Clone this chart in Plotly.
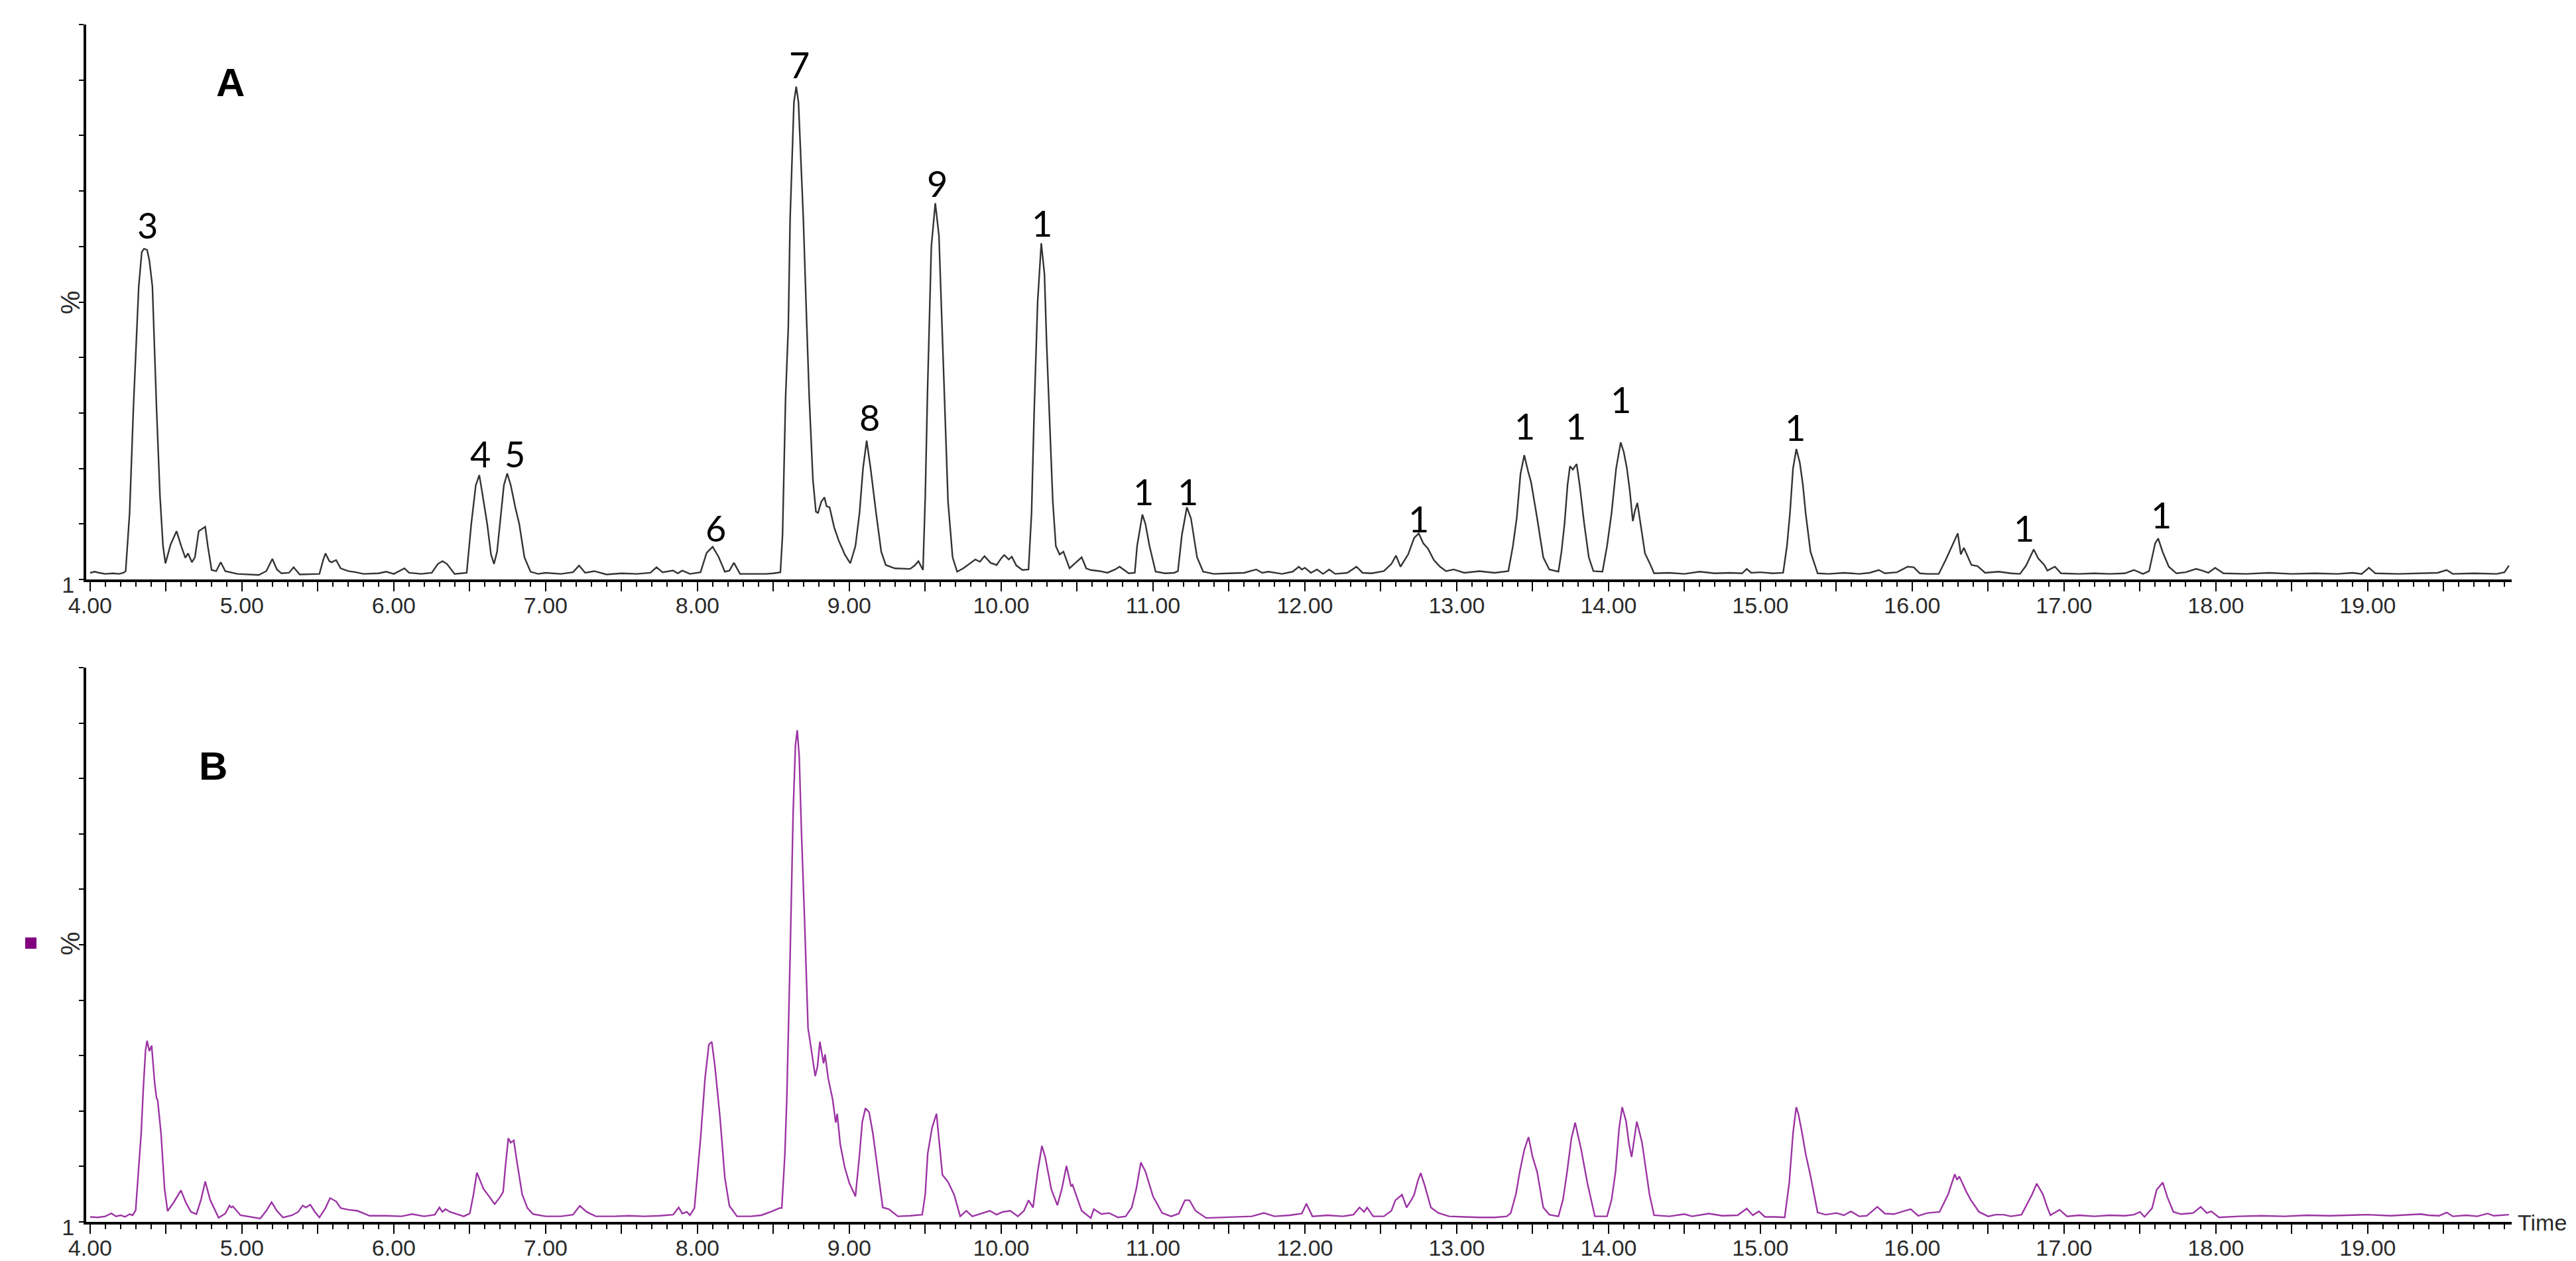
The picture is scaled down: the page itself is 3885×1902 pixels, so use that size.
import plotly.graph_objects as go

# Retention time (min) and relative intensity (%)
trace_a_points = [
    (4.00, 1.2), (4.03, 1.4), (4.06, 1.2), (4.10, 1.0), (4.15, 1.1), (4.19, 1.0), (4.22, 1.2),
    (4.234, 1.5), (4.26, 12), (4.285, 31), (4.32, 52.8), (4.34, 59.0), (4.355, 59.6), (4.375, 59.4),
    (4.39, 57.5), (4.41, 52.8), (4.437, 31), (4.46, 15), (4.48, 6), (4.496, 2.9), (4.53, 6.3),
    (4.569, 8.7), (4.60, 6), (4.627, 3.9), (4.645, 4.7), (4.67, 3.1), (4.69, 4.0), (4.715, 8.7),
    (4.758, 9.5), (4.775, 6), (4.80, 1.7), (4.83, 1.5), (4.86, 3.1), (4.89, 1.5), (4.97, 1.0),
    (5.05, 0.9), (5.11, 0.8), (5.16, 1.5), (5.20, 3.7), (5.23, 1.8), (5.26, 1.1), (5.31, 1.2),
    (5.34, 2.2), (5.38, 0.9), (5.45, 1.0), (5.51, 1.0), (5.535, 3.5), (5.55, 4.7), (5.575, 3.3),
    (5.59, 3.1), (5.62, 3.5), (5.65, 2.0), (5.70, 1.5), (5.75, 1.3), (5.80, 1.0), (5.90, 1.1),
    (5.95, 1.4), (6.00, 1.0), (6.07, 2.0), (6.10, 1.2), (6.18, 1.0), (6.25, 1.2), (6.29, 2.8),
    (6.32, 3.3), (6.35, 2.8), (6.40, 1.0), (6.48, 1.2), (6.51, 10), (6.54, 17), (6.563, 18.8),
    (6.58, 16), (6.615, 10), (6.64, 4.5), (6.66, 2.8), (6.68, 5), (6.70, 10), (6.725, 17),
    (6.747, 19.1), (6.77, 17), (6.80, 13), (6.826, 10), (6.86, 4), (6.90, 1.4), (6.95, 1.0),
    (7.00, 1.2), (7.10, 1.0), (7.18, 1.3), (7.22, 2.5), (7.26, 1.2), (7.32, 1.5), (7.40, 0.9),
    (7.50, 1.1), (7.60, 1.0), (7.69, 1.2), (7.73, 2.2), (7.77, 1.3), (7.84, 1.6), (7.87, 1.1),
    (7.90, 1.6), (7.95, 1.0), (8.02, 1.3), (8.06, 4.8), (8.10, 5.9), (8.14, 4.0), (8.18, 1.4),
    (8.21, 1.6), (8.24, 3.0), (8.28, 1.0), (8.35, 1.0), (8.45, 1.0), (8.50, 1.1), (8.546, 1.3),
    (8.56, 8), (8.58, 32.7), (8.598, 45.5), (8.61, 65), (8.635, 86), (8.65, 88.8), (8.665, 86),
    (8.697, 65), (8.72, 45.5), (8.736, 32.7), (8.76, 18), (8.78, 12.2), (8.794, 12.0),
    (8.815, 14.0), (8.836, 14.8), (8.85, 13.2), (8.87, 13.0), (8.90, 9.4), (8.93, 7), (8.97, 4.5),
    (9.006, 2.9), (9.04, 6), (9.067, 12), (9.09, 20), (9.114, 25.0), (9.14, 20), (9.176, 12),
    (9.21, 5), (9.24, 2.6), (9.30, 2.0), (9.40, 1.9), (9.43, 2.5), (9.455, 3.3), (9.485, 1.7),
    (9.50, 15), (9.515, 34), (9.54, 60), (9.566, 67.8), (9.59, 62), (9.624, 34), (9.65, 14),
    (9.68, 4), (9.71, 1.4), (9.75, 2.0), (9.80, 3.0), (9.83, 3.6), (9.86, 3.2), (9.89, 4.2),
    (9.93, 3.0), (9.97, 2.6), (10.00, 3.8), (10.02, 4.4), (10.05, 3.6), (10.07, 4.1), (10.10, 2.5),
    (10.14, 1.7), (10.18, 1.8), (10.20, 12), (10.217, 30), (10.24, 50), (10.264, 60.6),
    (10.285, 55), (10.30, 42), (10.318, 30), (10.34, 14), (10.36, 6), (10.385, 4.5), (10.41, 5.0),
    (10.45, 2.0), (10.49, 3.0), (10.53, 4.0), (10.56, 2.0), (10.59, 1.7), (10.65, 1.5),
    (10.70, 1.2), (10.75, 1.8), (10.78, 2.3), (10.84, 1.1), (10.88, 1.2), (10.895, 6),
    (10.93, 11.7), (10.95, 10), (10.977, 6), (11.017, 1.4), (11.08, 1.1), (11.14, 1.2),
    (11.164, 1.5), (11.19, 8), (11.223, 13.0), (11.25, 11), (11.29, 4), (11.33, 1.4), (11.40, 1.0),
    (11.50, 1.1), (11.60, 1.2), (11.68, 1.8), (11.72, 1.2), (11.76, 1.4), (11.85, 1.0),
    (11.92, 1.4), (11.96, 2.3), (11.98, 1.8), (12.00, 2.1), (12.04, 1.2), (12.08, 1.8),
    (12.12, 1.0), (12.16, 1.8), (12.20, 1.0), (12.28, 1.2), (12.34, 2.3), (12.38, 1.2),
    (12.44, 1.1), (12.52, 1.5), (12.57, 2.8), (12.60, 4.3), (12.63, 2.3), (12.68, 4.5),
    (12.72, 7.5), (12.75, 8.3), (12.78, 6.5), (12.81, 5.6), (12.85, 3.5), (12.89, 2.3),
    (12.93, 1.5), (12.98, 1.8), (13.05, 1.2), (13.15, 1.5), (13.25, 1.2), (13.34, 1.5),
    (13.37, 6), (13.395, 11), (13.42, 19), (13.445, 22.4), (13.47, 19.5), (13.49, 17.5),
    (13.53, 11), (13.57, 4), (13.61, 1.8), (13.67, 1.4), (13.69, 5), (13.71, 10), (13.73, 17),
    (13.746, 20.4), (13.765, 19.8), (13.79, 20.8), (13.81, 17), (13.84, 10), (13.87, 4),
    (13.90, 1.5), (13.96, 1.4), (13.99, 6), (14.02, 12), (14.05, 20), (14.08, 24.7), (14.10, 23),
    (14.12, 20.2), (14.14, 16), (14.16, 10.5), (14.175, 12.5), (14.19, 13.8), (14.21, 10),
    (14.24, 4.7), (14.27, 3), (14.30, 1.1), (14.40, 1.2), (14.50, 1.0), (14.60, 1.4), (14.70, 1.1),
    (14.80, 1.2), (14.88, 1.1), (14.91, 1.9), (14.94, 1.2), (15.00, 1.3), (15.08, 1.1),
    (15.15, 1.2), (15.175, 6), (15.195, 12), (15.215, 20), (15.237, 23.5), (15.26, 21),
    (15.28, 17), (15.298, 12), (15.33, 5), (15.377, 1.1), (15.45, 1.0), (15.55, 1.2),
    (15.65, 1.0), (15.72, 1.2), (15.78, 1.7), (15.82, 1.1), (15.90, 1.3), (15.97, 2.3),
    (16.01, 2.2), (16.05, 1.1), (16.10, 1.0), (16.175, 1.0), (16.22, 3.5), (16.26, 5.9),
    (16.30, 8.3), (16.32, 4.5), (16.34, 5.7), (16.39, 2.6), (16.43, 2.4), (16.48, 1.2),
    (16.57, 1.4), (16.65, 1.1), (16.71, 1.0), (16.75, 2.5), (16.80, 5.4), (16.83, 3.8),
    (16.87, 2.6), (16.89, 1.6), (16.94, 2.3), (16.98, 1.1), (17.10, 1.0), (17.20, 1.1),
    (17.30, 1.0), (17.40, 1.1), (17.46, 1.7), (17.52, 1.0), (17.56, 1.5), (17.60, 6.5),
    (17.62, 7.4), (17.65, 4.9), (17.69, 2.3), (17.74, 1.1), (17.80, 1.3), (17.87, 1.9),
    (17.91, 1.6), (17.95, 1.2), (17.995, 2.1), (18.05, 1.1), (18.20, 1.0), (18.35, 1.2),
    (18.50, 1.0), (18.65, 1.1), (18.80, 1.0), (18.90, 1.2), (18.96, 1.0), (19.008, 2.1),
    (19.05, 1.1), (19.20, 1.0), (19.35, 1.1), (19.46, 1.2), (19.52, 1.7), (19.56, 1.0),
    (19.70, 1.1), (19.85, 1.0), (19.90, 1.3), (19.93, 2.5),
]

trace_b_points = [
    (4.00, 0.9), (4.05, 0.8), (4.10, 1.0), (4.14, 1.55), (4.17, 1.0), (4.20, 1.2), (4.23, 0.9),
    (4.26, 1.4), (4.28, 1.2), (4.30, 2.1), (4.315, 8), (4.336, 15.9), (4.35, 24), (4.365, 31),
    (4.375, 32.7), (4.39, 30.8), (4.405, 31.8), (4.425, 25), (4.437, 22.4), (4.445, 21.9),
    (4.467, 15.9), (4.49, 6), (4.51, 1.95), (4.55, 3.5), (4.598, 5.7), (4.63, 3.5), (4.664, 1.8),
    (4.70, 1.4), (4.73, 4), (4.758, 7.3), (4.79, 4), (4.846, 0.75), (4.89, 1.5), (4.918, 2.95),
    (4.93, 2.6), (4.94, 2.8), (4.99, 1.2), (5.05, 0.9), (5.12, 0.6), (5.16, 2), (5.195, 3.55),
    (5.23, 2), (5.27, 0.8), (5.33, 1.2), (5.37, 1.8), (5.40, 2.95), (5.42, 2.6), (5.45, 3.1),
    (5.48, 1.8), (5.51, 0.8), (5.55, 2.5), (5.58, 4.3), (5.62, 3.7), (5.65, 2.5), (5.70, 2.2),
    (5.76, 2.0), (5.84, 1.1), (5.95, 1.1), (6.05, 1.0), (6.12, 1.4), (6.20, 1.0), (6.27, 1.3),
    (6.30, 2.6), (6.32, 1.8), (6.34, 2.3), (6.37, 1.8), (6.46, 1.0), (6.50, 1.5), (6.525, 5),
    (6.547, 8.9), (6.59, 6.0), (6.63, 4.5), (6.664, 3.2), (6.70, 4.5), (6.72, 5.4), (6.735, 10),
    (6.754, 15.1), (6.77, 14.3), (6.79, 14.7), (6.81, 11), (6.845, 5.0), (6.88, 2.5),
    (6.917, 1.4), (7.00, 1.0), (7.10, 1.0), (7.18, 1.3), (7.225, 2.9), (7.27, 1.8), (7.33, 1.0),
    (7.45, 1.0), (7.55, 1.1), (7.65, 1.0), (7.75, 1.1), (7.84, 1.3), (7.876, 2.6), (7.90, 1.5),
    (7.93, 1.8), (7.95, 1.2), (7.98, 2.5), (8.02, 15), (8.05, 26), (8.075, 32), (8.094, 32.5),
    (8.115, 28), (8.148, 18.9), (8.18, 8), (8.21, 2.9), (8.26, 1.0), (8.35, 1.0), (8.42, 1.2),
    (8.49, 1.9), (8.54, 2.5), (8.555, 2.5), (8.575, 12), (8.588, 22.1), (8.61, 48), (8.63, 74),
    (8.645, 86), (8.657, 88.7), (8.67, 84), (8.685, 70), (8.705, 54.5), (8.728, 35.0),
    (8.75, 31), (8.775, 26.3), (8.79, 28), (8.806, 32.5), (8.83, 28.6), (8.84, 30.2), (8.86, 26),
    (8.89, 22.1), (8.91, 17.9), (8.92, 19.5), (8.94, 14), (8.97, 9.8), (9.00, 7), (9.04, 4.6),
    (9.066, 11.8), (9.085, 18), (9.106, 20.5), (9.13, 19.8), (9.155, 16), (9.18, 11.0),
    (9.22, 2.6), (9.26, 2.3), (9.32, 1.0), (9.40, 1.1), (9.48, 1.3), (9.50, 5), (9.516, 12.3),
    (9.545, 17), (9.574, 19.5), (9.59, 15), (9.613, 8.5), (9.65, 7.2), (9.69, 4.9), (9.73, 1.0),
    (9.77, 2.0), (9.81, 1.0), (9.87, 1.5), (9.925, 2.0), (9.97, 1.3), (10.01, 1.8), (10.06, 2.0),
    (10.11, 1.0), (10.15, 2.0), (10.18, 3.9), (10.21, 2.6), (10.24, 9), (10.268, 13.7),
    (10.29, 11.7), (10.33, 5.9), (10.37, 3.0), (10.40, 6), (10.43, 10.1), (10.46, 6.4),
    (10.47, 6.7), (10.53, 2.0), (10.59, 0.7), (10.61, 2.3), (10.66, 1.4), (10.71, 1.6),
    (10.77, 0.8), (10.82, 1.0), (10.86, 2.6), (10.89, 6), (10.92, 10.7), (10.95, 9.1),
    (11.00, 4.6), (11.06, 1.6), (11.12, 1.0), (11.17, 1.5), (11.21, 3.9), (11.24, 3.9),
    (11.28, 2.0), (11.35, 0.7), (11.45, 0.8), (11.55, 0.9), (11.65, 1.0), (11.73, 1.6),
    (11.80, 1.0), (11.90, 1.2), (11.98, 1.5), (12.01, 3.3), (12.05, 1.0), (12.15, 1.2),
    (12.25, 1.0), (12.32, 1.3), (12.36, 2.6), (12.39, 1.8), (12.41, 2.6), (12.45, 1.0),
    (12.52, 1.0), (12.57, 2.0), (12.596, 3.9), (12.64, 4.9), (12.67, 2.6), (12.70, 3.9),
    (12.72, 4.9), (12.745, 7.5), (12.763, 8.8), (12.79, 6.5), (12.83, 2.6), (12.88, 1.6),
    (12.95, 1.0), (13.05, 0.9), (13.15, 0.8), (13.25, 0.8), (13.33, 1.0), (13.356, 1.6),
    (13.39, 5), (13.415, 9.0), (13.445, 13), (13.473, 15.3), (13.50, 11.7), (13.53, 9.0),
    (13.57, 2.6), (13.61, 1.3), (13.67, 1.0), (13.70, 4), (13.727, 9.0), (13.755, 15),
    (13.78, 17.9), (13.82, 13.0), (13.86, 7.1), (13.91, 1.0), (13.99, 1.0), (14.02, 4),
    (14.046, 9.0), (14.07, 17), (14.09, 20.7), (14.115, 18.2), (14.135, 14), (14.152, 11.7),
    (14.17, 15), (14.186, 18.1), (14.22, 14.4), (14.27, 4.9), (14.30, 1.2), (14.40, 1.0),
    (14.50, 1.4), (14.55, 1.0), (14.66, 1.5), (14.75, 1.1), (14.85, 1.2), (14.91, 2.4),
    (14.95, 1.2), (14.99, 1.9), (15.03, 0.9), (15.10, 0.9), (15.16, 0.8), (15.19, 7),
    (15.215, 16), (15.236, 20.7), (15.25, 19.5), (15.275, 16), (15.298, 12.3), (15.33, 8.3),
    (15.377, 1.7), (15.43, 1.3), (15.50, 1.6), (15.55, 1.2), (15.596, 1.9), (15.65, 1.0),
    (15.70, 1.1), (15.77, 2.7), (15.82, 1.5), (15.88, 1.4), (15.95, 2.0), (15.99, 2.3),
    (16.04, 1.1), (16.10, 1.6), (16.18, 1.8), (16.237, 5.0), (16.28, 8.6), (16.295, 7.6),
    (16.31, 8.2), (16.357, 5.4), (16.385, 4.0), (16.44, 1.8), (16.50, 1.0), (16.55, 1.3),
    (16.60, 1.3), (16.65, 1.0), (16.72, 1.3), (16.77, 4), (16.79, 5), (16.82, 6.9), (16.86, 5.0),
    (16.89, 2.6), (16.91, 1.2), (16.97, 2.2), (17.02, 1.0), (17.10, 1.2), (17.20, 1.0),
    (17.30, 1.2), (17.40, 1.1), (17.46, 1.3), (17.50, 1.8), (17.53, 0.9), (17.58, 2.5),
    (17.61, 5.8), (17.65, 7.1), (17.68, 4.5), (17.72, 1.8), (17.77, 1.4), (17.85, 1.6),
    (17.90, 2.7), (17.94, 1.6), (17.97, 1.9), (18.02, 0.8), (18.15, 1.0), (18.30, 1.1),
    (18.45, 1.0), (18.60, 1.2), (18.75, 1.1), (18.90, 1.2), (19.00, 1.3), (19.15, 1.1),
    (19.30, 1.3), (19.35, 1.4), (19.40, 1.2), (19.47, 1.1), (19.52, 1.7), (19.56, 1.0),
    (19.65, 1.2), (19.72, 1.0), (19.79, 1.5), (19.83, 1.1), (19.93, 1.3),
]

# peak labels on chromatogram A
peak_labels = ['3', '4', '5', '6', '7', '8', '9', '1', '1', '1', '1', '1', '1', '1', '1', '1', '1']
peak_label_times = [4.376, 6.568, 6.797, 8.122, 8.672, 9.133, 9.579, 10.271, 10.939, 11.231,
                    12.751, 13.450, 13.784, 14.079, 15.231, 16.738, 17.638]
peak_label_heights = [63.8, 22.6, 22.6, 9.3, 92.8, 29.2, 71.4, 64.2, 15.8, 15.8,
                      10.9, 27.6, 27.6, 32.4, 27.4, 9.3, 11.7]

# axis ticks
x_tick_values = [4 + 0.5 * i for i in range(32)]
x_tick_labels = [f'{v:.2f}' if v == int(v) else '' for v in x_tick_values]
y_tick_values = list(range(0, 101, 10))
y_tick_labels = ['1'] + [''] * 10

W, H = 3885, 1902
tick_font = dict(family='Liberation Sans, Arial', size=34, color='#2a2a2a')

fig = go.Figure()

fig.add_trace(go.Scatter(
    x=[p[0] for p in trace_a_points], y=[p[1] for p in trace_a_points],
    mode='lines', line=dict(color='#333333', width=2.4),
    xaxis='x', yaxis='y', showlegend=False,
))
fig.add_trace(go.Scatter(
    x=[p[0] for p in trace_b_points], y=[p[1] for p in trace_b_points],
    mode='lines', line=dict(color='#9c34a4', width=2.4),
    xaxis='x2', yaxis='y2', showlegend=False,
))

x_dom = [122 / W, 3780 / W]
common_x = dict(
    range=[3.974, 19.948], showline=True, linecolor='black', linewidth=4,
    ticks='outside', tickvals=x_tick_values, ticktext=x_tick_labels, ticklen=14,
    tickwidth=2, tickcolor='black', tickfont=tick_font, showgrid=False, zeroline=False,
    ticklabelstandoff=-8,
    minor=dict(dtick=0.1, tick0=4, ticks='outside', ticklen=7, tickwidth=2, tickcolor='black'),
    domain=x_dom, automargin=False,
)
common_y = dict(
    range=[0, 100], showline=True, linecolor='black', linewidth=4,
    ticks='outside', tickvals=y_tick_values, ticktext=y_tick_labels, ticklen=7,
    tickwidth=2, tickcolor='black', tickfont=tick_font, showgrid=False, zeroline=False,
    ticklabelshift=8, automargin=False,
)

fig.update_layout(
    width=W, height=H, autosize=False,
    margin=dict(l=0, r=0, t=0, b=0, pad=0, autoexpand=False),
    paper_bgcolor='white', plot_bgcolor='white',
    xaxis=dict(**common_x, anchor='y'),
    yaxis=dict(**common_y, domain=[1 - 866 / H, 1 - 29 / H], anchor='x'),
    xaxis2=dict(**common_x, anchor='y2'),
    yaxis2=dict(**common_y, domain=[1 - 1835 / H, 1 - 999 / H], anchor='x2'),
)

# peak numbers
for label, t, h in zip(peak_labels, peak_label_times, peak_label_heights):
    fig.add_annotation(
        x=t, y=h, xref='x', yref='y', text=label, showarrow=False,
        font=dict(family='Lato, Noto Sans', size=54, color='black'),
        xanchor='center', yanchor='middle',
    )

# panel letters, % labels and Time label
for letter, xc, yc in [('A', 339, 117), ('B', 313, 1147)]:
    fig.add_annotation(x=xc / W, y=1 - yc / H, xref='paper', yref='paper', text=f'<b>{letter}</b>',
                       xanchor='center', yanchor='middle', showarrow=False,
                       font=dict(family='Liberation Sans, Arial', size=60, color='black'))
for yc in [448, 1415]:
    fig.add_annotation(x=98 / W, y=1 - yc / H, xref='paper', yref='paper', text='%',
                       textangle=-90, xanchor='center', yanchor='middle', showarrow=False,
                       font=dict(family='Liberation Sans, Arial', size=40, color='#2a2a2a'))
fig.add_annotation(x=3787 / W, y=1 - 1836 / H, xref='paper', yref='paper', text='Time',
                   xanchor='left', yanchor='middle', showarrow=False,
                   font=dict(family='Liberation Sans, Arial', size=34, color='#2a2a2a'))

# small purple marker left of panel B
fig.add_shape(type='rect', xref='paper', yref='paper',
              x0=30 / W, x1=47 / W, y0=1 - 1423 / H, y1=1 - 1406 / H,
              fillcolor='#800080', line=dict(width=0))

fig.write_html('out.html')
